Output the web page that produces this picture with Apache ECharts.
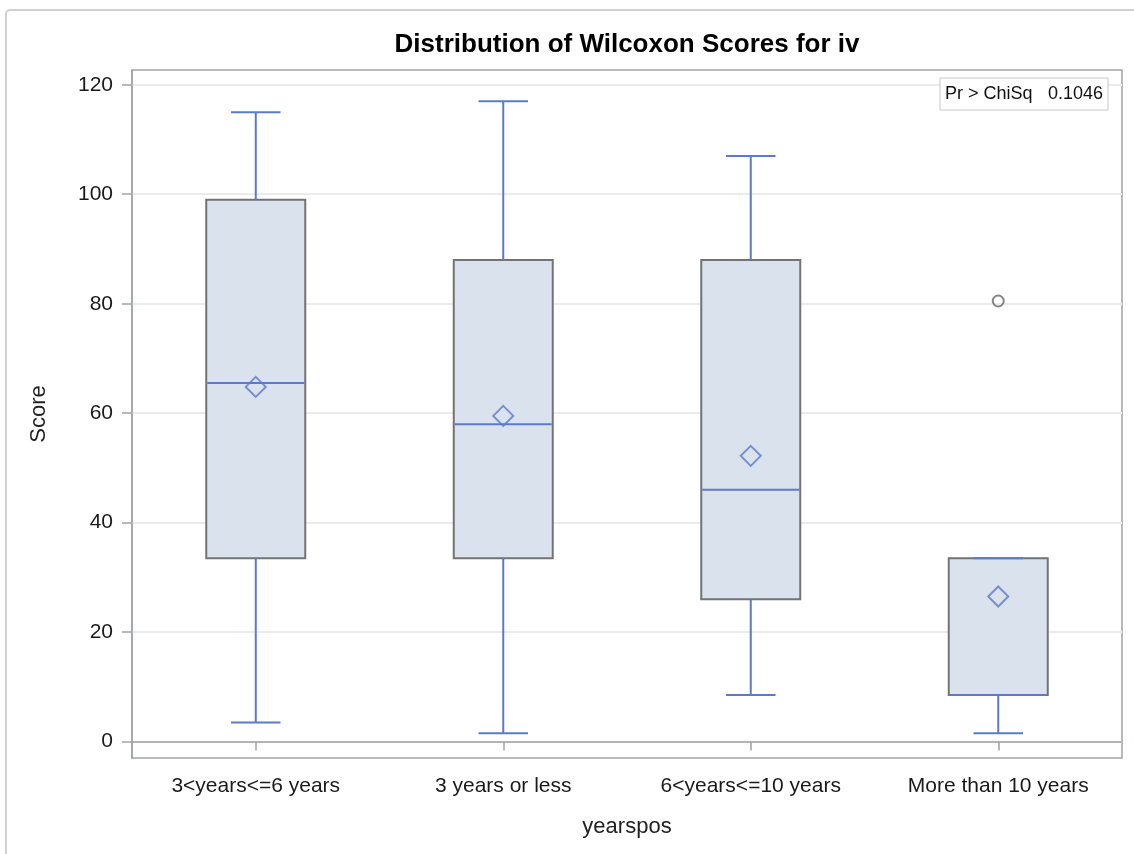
<!DOCTYPE html>
<html>
<head>
<meta charset="utf-8">
<script src="https://cdn.jsdelivr.net/npm/echarts@6/dist/echarts.min.js"></script>
<style>
html,body{margin:0;padding:0;background:#fff;}
#chart{width:1134px;height:854px;}
</style>
</head>
<body>
<div id="chart"></div>
<script>
const categories = ['3<years<=6 years', '3 years or less', '6<years<=10 years', 'More than 10 years'];
const mins    = [3.5, 1.5, 8.5, 1.5];
const q1s     = [33.5, 33.5, 26, 8.5];
const medians = [65.5, 58, 46, 8.5];
const q3s     = [99, 88, 88, 33.5];
const maxs    = [115, 117, 107, 33.5];
const means   = [64.8, 59.5, 52.2, 26.5];
const outlierCategories = ['More than 10 years'];
const outlierValues = [80.5];
const yTicks = [0, 20, 40, 60, 80, 100, 120];
const titleText = 'Distribution of Wilcoxon Scores for iv';
const xName = 'yearspos';
const yName = 'Score';
const statLabel = 'Pr > ChiSq';
const statValue = '0.1046';

const FONT = 'Liberation Sans, Arial, sans-serif';
const LINE_BLUE = '#5b7bc9';
const BOX_FILL = '#dae2ed';
const BOX_EDGE = '#737373';

const boxData = categories.map((c, i) => [i, mins[i], q1s[i], medians[i], q3s[i], maxs[i]]);
const meanData = categories.map((c, i) => [c, means[i]]);
const outlierData = outlierCategories.map((c, i) => [c, outlierValues[i]]);

function renderBox(params, api) {
  const idx = api.value(0);
  const band = api.size([1, 0])[0];
  const boxW = band * 0.4;
  const capW = boxW * 0.5;
  const pMin = api.coord([idx, api.value(1)]);
  const pQ1 = api.coord([idx, api.value(2)]);
  const pMed = api.coord([idx, api.value(3)]);
  const pQ3 = api.coord([idx, api.value(4)]);
  const pMax = api.coord([idx, api.value(5)]);
  const cx = pQ1[0];
  const blue = {stroke: LINE_BLUE, lineWidth: 2, fill: null};
  return {
    type: 'group',
    children: [
      {type: 'rect', shape: {x: cx - boxW / 2, y: pQ3[1], width: boxW, height: pQ1[1] - pQ3[1]},
       style: {fill: BOX_FILL, stroke: BOX_EDGE, lineWidth: 2}},
      {type: 'line', shape: {x1: cx, y1: pQ3[1], x2: cx, y2: pMax[1]}, style: blue},
      {type: 'line', shape: {x1: cx, y1: pQ1[1], x2: cx, y2: pMin[1]}, style: blue},
      {type: 'line', shape: {x1: cx - capW / 2, y1: pMax[1], x2: cx + capW / 2, y2: pMax[1]}, style: blue},
      {type: 'line', shape: {x1: cx - capW / 2, y1: pMin[1], x2: cx + capW / 2, y2: pMin[1]}, style: blue},
      {type: 'line', shape: {x1: cx - boxW / 2 + 1, y1: pMed[1], x2: cx + boxW / 2 - 1, y2: pMed[1]}, style: blue}
    ]
  };
}

const chart = echarts.init(document.getElementById('chart'), null, {renderer: 'canvas'});
chart.setOption({
  animation: false,
  backgroundColor: '#fff',
  textStyle: {fontFamily: FONT},
  grid: {left: 132, top: 70, right: 12, bottom: 96, show: true, borderColor: '#a0a4a8', borderWidth: 1.5, backgroundColor: 'transparent'},
  xAxis: {
    type: 'category',
    data: categories,
    name: xName,
    nameLocation: 'middle',
    nameGap: 58,
    nameTextStyle: {fontSize: 22, color: '#222', fontFamily: FONT},
    axisLine: {show: true, lineStyle: {color: '#a0a4a8', width: 1.5}},
    axisTick: {show: true, alignWithLabel: true, length: 9, lineStyle: {color: '#a0a4a8', width: 1.5}},
    axisLabel: {fontSize: 21, color: '#1a1a1a', margin: 18, fontFamily: FONT, interval: 0},
    splitLine: {show: false}
  },
  yAxis: {
    type: 'value',
    min: -3,
    max: 122.7,
    name: yName,
    nameLocation: 'middle',
    nameGap: 82,
    nameRotate: 90,
    nameTextStyle: {fontSize: 22, color: '#222', fontFamily: FONT},
    axisLine: {show: true, lineStyle: {color: '#a0a4a8', width: 1.5}},
    axisTick: {show: true, length: 10, customValues: yTicks, lineStyle: {color: '#a0a4a8', width: 1.5}},
    axisLabel: {fontSize: 21, color: '#1a1a1a', margin: 19, customValues: yTicks, fontFamily: FONT},
    splitLine: {show: true, lineStyle: {color: '#ebebeb', width: 2}}
  },
  series: [
    {
      type: 'custom',
      renderItem: renderBox,
      data: boxData,
      encode: {x: 0, y: [1, 2, 3, 4, 5]},
      z: 2
    },
    {
      type: 'scatter',
      data: meanData,
      symbol: 'diamond',
      symbolSize: [20, 20],
      itemStyle: {color: 'rgba(0,0,0,0)', borderColor: LINE_BLUE, borderWidth: 2},
      z: 3
    },
    {
      type: 'scatter',
      data: outlierData,
      symbol: 'circle',
      symbolSize: 11,
      itemStyle: {color: 'rgba(0,0,0,0)', borderColor: '#666', borderWidth: 2},
      z: 3
    }
  ],
  graphic: [
    {type: 'rect', shape: {x: 6, y: 10, width: 1140, height: 860, r: 4}, style: {fill: null, stroke: '#d0d0d0', lineWidth: 2}, silent: true},
    {type: 'text', x: 627, y: 45, style: {text: titleText, font: 'bold 26px ' + FONT, fill: '#000', textAlign: 'center', textVerticalAlign: 'middle'}},
    {type: 'rect', shape: {x: 940, y: 78, width: 168, height: 32}, style: {fill: '#fff', stroke: '#c8c8c8', lineWidth: 1}, z: 10},
    {type: 'text', x: 945, y: 94, style: {text: statLabel, font: '18px ' + FONT, fill: '#111', textVerticalAlign: 'middle'}, z: 11},
    {type: 'text', x: 1103, y: 94, style: {text: statValue, font: '18px ' + FONT, fill: '#111', textAlign: 'right', textVerticalAlign: 'middle'}, z: 11}
  ]
});
</script>
</body>
</html>
